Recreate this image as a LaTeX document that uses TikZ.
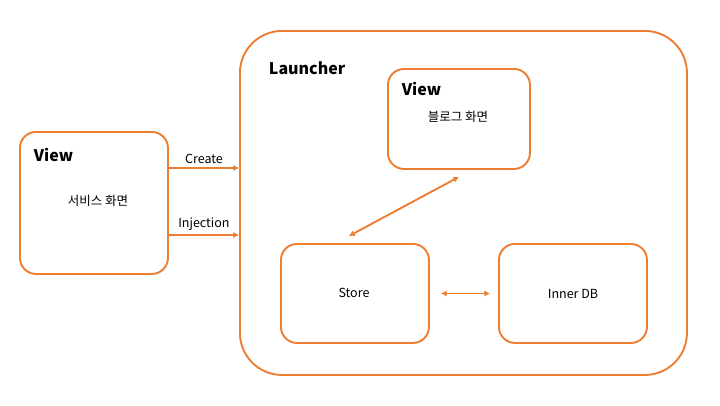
\documentclass[tikz,border=0pt]{standalone}
\usepackage{fontspec}
\setmainfont{Noto Sans CJK KR}
\usepackage{xcolor}
\usetikzlibrary{arrows.meta, positioning, calc}

\definecolor{launchorange}{HTML}{ED7D31}

\begin{document}
\begin{tikzpicture}[
        x = 1pt, y = -1pt,
        > = {Latex[width=2.2mm,length=2mm]},
        line width = 1.9pt,
        box/.style = {
            draw = launchorange,
            rectangle,
            rounded corners = 16pt,
            anchor = north west,
            inner sep = 0pt
        },
        title/.style = {
            anchor = north west,
            font = \fontsize{16}{18}\selectfont\bfseries,
            inner sep = 0pt
        },
        every node/.style = {font = \fontsize{12.5}{14}\selectfont},
        link/.style = {draw = launchorange, <->}
    ]

        \useasboundingbox (0,0) rectangle (720,405);

        % outer service view and launcher
        \node[box, minimum width = 148pt, minimum height = 142pt] (service) at (19,131) {};
        \node[box, rounded corners = 42pt, minimum width = 447pt, minimum height = 344pt] (launcher) at (239,30) {};

        % boxes inside the launcher
        \node[box, minimum width = 142pt, minimum height = 100pt] (blog) at (387,68) {};
        \node[box, minimum width = 148pt, minimum height = 99pt] (store) at (280,243) {};
        \node[box, minimum width = 148pt, minimum height = 99pt] (innerdb) at (498,243) {};

        \node[title] at (33,147) {View};
        \node at (98,201) {서비스 화면};
        \node[title] at (268,61) {Launcher};
        \node[title] at (401,81) {View};
        \node at (458,117) {블로그 화면};
        \node at (354,293) {Store};
        \node at (573,294) {Inner DB};

        \coordinate (createA) at (service.east |- 0,168);
        \coordinate (injectA) at (service.east |- 0,235);

        \draw[draw = launchorange, ->] (createA) -- node[above, text = black] {Create} (launcher.west |- createA);
        \draw[draw = launchorange, ->] (injectA) -- node[above, text = black] {Injection} (launcher.west |- injectA);

        \draw[link] ($(blog.south)+(0,7)$) -- ($(store.north)+(-6,-7)$);
        \draw[link] ($(store.east)+(11,0)$) -- ($(innerdb.west)+(-8,0)$);

    \end{tikzpicture}
\end{document}
